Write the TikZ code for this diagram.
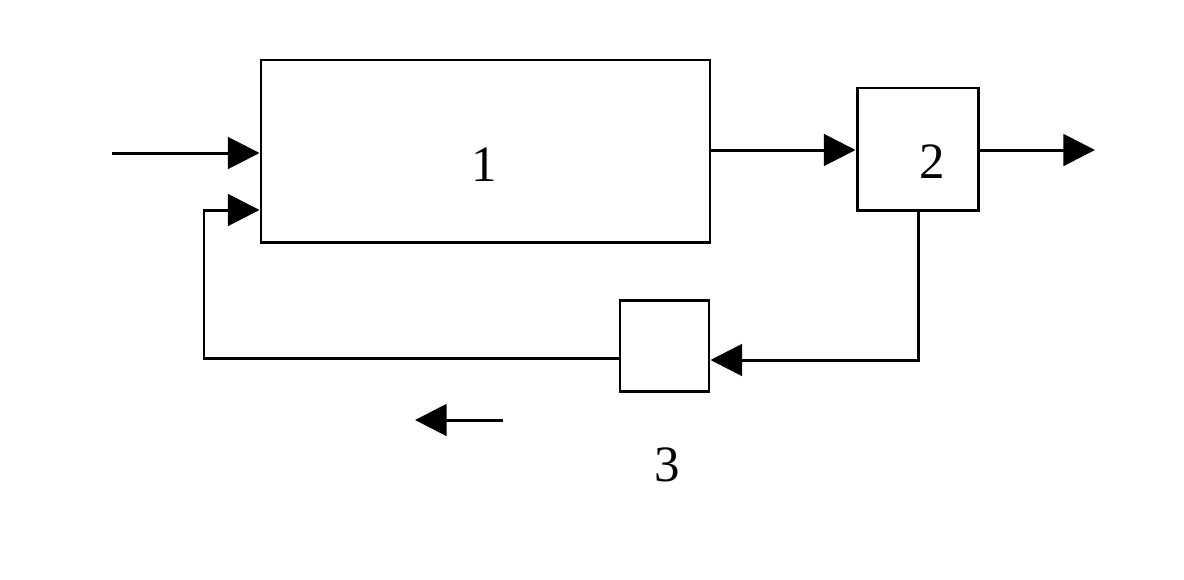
\documentclass[tikz,border=0pt]{standalone}
\usepackage{fontspec}
\setmainfont{Liberation Serif}
\usetikzlibrary{arrows.meta}
\begin{document}
\begin{tikzpicture}[x=0.02cm,y=-0.02cm,
  blk/.style={draw,line width=1.7pt,inner sep=0pt},
  conn/.style={line width=1.7pt,-{Triangle[length=18pt,width=18pt]}},
  plain/.style={line width=1.7pt},
  lbl/.style={font=\fontsize{29}{30}\selectfont,inner sep=0pt}]
\useasboundingbox (0,0) rectangle (1184,579);
\node[blk,minimum width=449*0.02cm,minimum height=182*0.02cm] (b1) at (485.5,151) {};
\node[blk,minimum width=121*0.02cm,minimum height=122*0.02cm] (b2) at (917.5,149) {};
\node[blk,minimum width=89*0.02cm,minimum height=91*0.02cm] (b3) at (664.5,345.5) {};
\node[lbl] (l1) at (484,165) {1};
\node[lbl] (l2) at (932,162) {2};
\node[lbl] (l3) at (667,465) {3};
\coordinate (in) at (112,153);
\coordinate (out) at (1095,150);
\coordinate (fb) at (204,358);
\coordinate (fbtop) at (204,210);
\coordinate (dn) at (918,360);
\coordinate (sa) at (503,420);
\coordinate (sb) at (415,420);
\draw[conn] (in) -- (in -| b1.west);
\draw[conn] (b1.east |- 0,150) -- (b2.west |- 0,150);
\draw[conn] (b2.east |- 0,150) -- (out);
\draw[conn] (b2.south -| dn) -- (dn) -- (b3.east |- dn);
\draw[conn] (b3.west |- fb) -- (fb) -- (fbtop) -- (fbtop -| b1.west);
\draw[conn] (sa) -- (sb);
\end{tikzpicture}
\end{document}
